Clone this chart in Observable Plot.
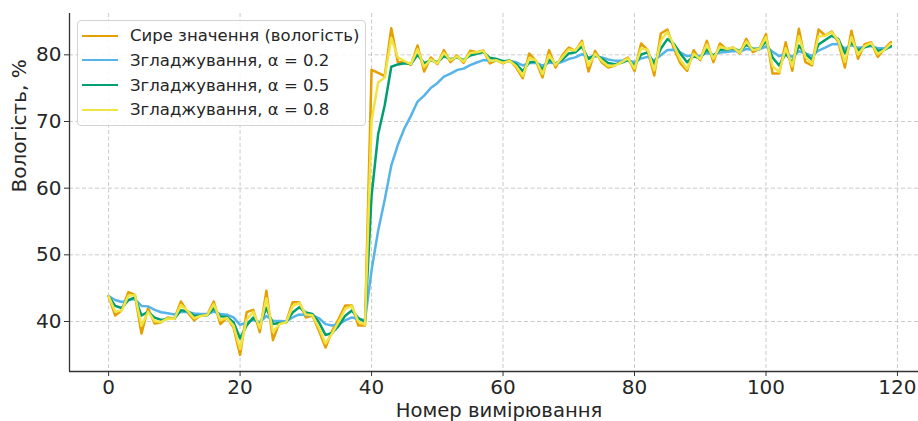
<!DOCTYPE html>
<html><head><meta charset="utf-8">
<script src="https://cdn.jsdelivr.net/npm/d3@7"></script>
<script src="https://cdn.jsdelivr.net/npm/@observablehq/plot@0.6"></script>
<style>
body{margin:0;background:#fff;overflow:hidden;}
#wrap{position:relative;width:918px;height:421px;}
#legend{position:absolute;left:77px;top:20px;width:289px;height:106px;border:1px solid #d3d3d3;border-radius:4px;background:rgba(255,255,255,0.85);font-family:"DejaVu Sans";font-size:16.5px;color:#262626;box-sizing:border-box;padding-top:2.4px}
.row{display:flex;align-items:center;height:24.7px;white-space:nowrap}
.sw{width:36px;height:0;border-top:2.6px solid;margin-left:4px;margin-right:12px;flex:none}
</style></head><body><div id="wrap"><div id="legend"></div></div>
<script>
const measurementIndex = d3.range(0, 120);
const rawHumidity = [
  43.8, 40.9, 41.7, 44.4, 44.0, 38.2, 42.0, 39.7, 39.9, 40.6,
  40.4, 43.0, 41.4, 40.2, 40.9, 41.0, 43.0, 39.6, 40.6, 39.1,
  35.0, 41.4, 41.75, 38.4, 44.6, 37.2, 39.9, 39.9, 42.9, 42.9,
  40.6, 40.9, 38.6, 36.1, 38.6, 40.4, 42.4, 42.4, 39.4, 39.4,
  77.75, 77.3, 76.8, 84.0, 78.9, 78.9, 78.5, 81.4, 77.5, 79.6,
  78.6, 80.7, 78.9, 79.9, 78.8, 80.6, 80.4, 80.65, 78.7, 79.2,
  78.7, 79.2, 78.1, 76.5, 80.2, 79.1, 76.6, 80.7, 78.1, 79.9,
  81.1, 80.6, 82.1, 77.5, 80.6, 78.9, 78.1, 78.4, 79.0, 79.6,
  77.6, 81.7, 80.7, 76.9, 83.2, 83.8, 80.9, 78.7, 77.6, 80.7,
  79.2, 82.1, 78.9, 81.7, 80.8, 81.1, 80.2, 82.4, 80.4, 80.9,
  83.1, 77.2, 77.2, 81.9, 77.6, 83.9, 78.9, 78.4, 83.8, 82.9,
  83.5, 81.9, 78.1, 83.6, 79.4, 81.6, 81.9, 79.7, 80.9, 81.9
];
const alphas = [0.2, 0.5, 0.8];
const seriesNames = ["Сире значення (вологість)", "Згладжування, α = 0.2", "Згладжування, α = 0.5", "Згладжування, α = 0.8"];
const seriesColors = ["#E69F00", "#56B4E9", "#009E73", "#F0E442"];
const xTicks = [0, 20, 40, 60, 80, 100, 120];
const yTicks = [40, 50, 60, 70, 80];
const xDomain = [-5.95, 123.2];
const yDomain = [32.5, 86.2];
const xLabel = "Номер вимірювання";
const yLabel = "Вологість, %";

// Exponential smoothing of the raw series (what the legend describes)
function smooth(values, a) {
  const out = [];
  values.forEach((v, i) => out.push(i === 0 ? v : a * v + (1 - a) * out[i - 1]));
  return out;
}
const seriesValues = [rawHumidity, ...alphas.map(a => smooth(rawHumidity, a))];

const grid = {stroke: "#b0b0b0", strokeOpacity: 0.75, strokeDasharray: "4,2.5", strokeWidth: 0.9};
const chart = Plot.plot({
  width: 918, height: 421,
  marginLeft: 69, marginRight: 0, marginTop: 13, marginBottom: 50,
  style: {fontFamily: "DejaVu Sans", fontSize: "20px", color: "#262626", background: "white"},
  x: {domain: xDomain},
  y: {domain: yDomain},
  marks: [
    Plot.gridX(xTicks, grid),
    Plot.gridY(yTicks, grid),
    ...seriesValues.map((vals, k) => Plot.lineY(vals, {x: measurementIndex, y: d => d, stroke: seriesColors[k], strokeWidth: 2.5})),
    Plot.ruleX([xDomain[0]], {stroke: "#333", strokeWidth: 1.3}),
    Plot.ruleY([yDomain[0]], {stroke: "#333", strokeWidth: 1.3}),
    Plot.axisX(xTicks, {tickSize: 5, tickPadding: 3, label: null, fontSize: 20, stroke: "#333"}),
    Plot.axisY(yTicks, {tickSize: 5, tickPadding: 3, label: null, fontSize: 20, stroke: "#333"}),
    Plot.text([xLabel], {text: d => d, frameAnchor: "bottom", lineAnchor: "top", dy: 32, dx: 5, fontSize: 19.6, fill: "#262626"}),
    Plot.text([yLabel], {text: d => d, frameAnchor: "left", rotate: -90, dx: -50, fontSize: 20, fill: "#262626"})
  ]
});
document.getElementById("wrap").prepend(chart);

const legend = d3.select("#legend");
seriesNames.forEach((name, k) => {
  const row = legend.append("div").attr("class", "row");
  row.append("span").attr("class", "sw").style("border-top-color", seriesColors[k]);
  row.append("span").text(name);
});
</script>
</body></html>
